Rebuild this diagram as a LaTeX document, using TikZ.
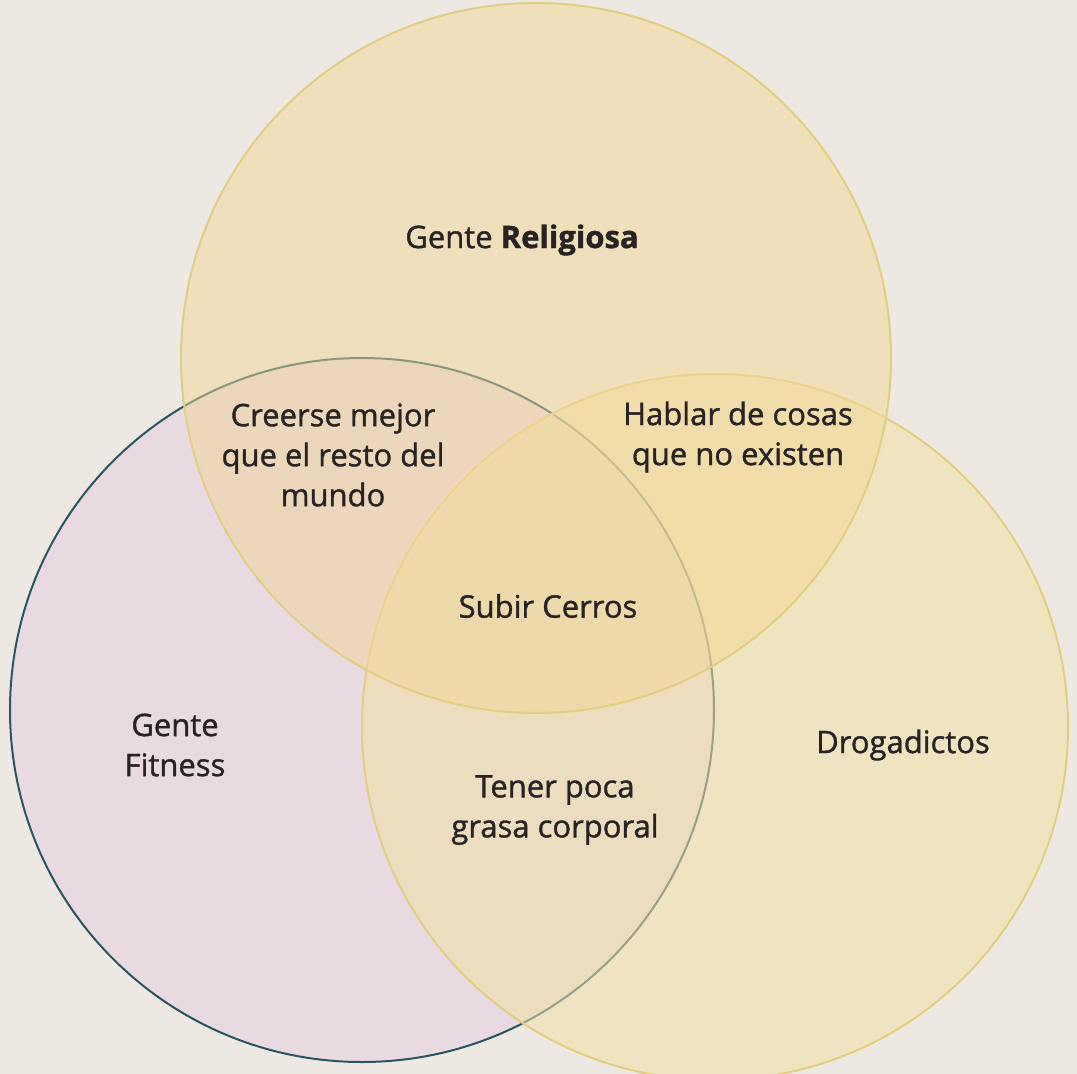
\documentclass[tikz,border=0pt]{standalone}
\usepackage{fontspec}
\setmainfont{Open Sans}
\newfontfamily\medfont[FakeBold=1.2]{Open Sans}
\definecolor{mybg}{RGB}{238,232,226}
\definecolor{myreli}{RGB}{240,215,150}
\definecolor{myfit}{RGB}{232,214,224}
\definecolor{mydrog}{RGB}{242,225,165}
\definecolor{myteal}{RGB}{40,85,95}
\definecolor{mygold}{RGB}{225,205,130}
\definecolor{mytext}{RGB}{40,35,35}
\usetikzlibrary{positioning}
\begin{document}
\begin{tikzpicture}[
  x=1pt, y=-1pt,
  venn/.style={circle, minimum size=#1, inner sep=0pt, line width=2pt},
  lbl/.style={font=\fontsize{31}{40}\medfont, text=mytext, align=center}
]
\fill[mybg] (0,0) rectangle (1077,1074);
\useasboundingbox (0,0) rectangle (1077,1074);

% circles
\node[venn=704pt, draw=myteal, fill=myfit, fill opacity=0.8] (fit) at (362,710) {};
\node[venn=706pt, draw=mygold, fill=mydrog, fill opacity=0.55] (drog) at (715,727) {};
\node[venn=710pt, draw=mygold, fill=myreli, fill opacity=0.5] (reli) at (536,358) {};

% labels
\node[lbl] (treli) at (522,240) {Gente \textbf{Religiosa}};
\node[lbl] (tfit) at (175,745) {Gente\\Fitness};
\node[lbl] (tdrog) at (903,745) {Drogadictos};
\node[lbl] (trf) at (333,455) {Creerse mejor\\que el resto del\\mundo};
\node[lbl] (trd) at (738,437) {Hablar de cosas\\que no existen};
\node[lbl] (tall) at (548,606) {Subir Cerros};
\node[lbl] (tfd) at (555,810) {Tener poca\\grasa corporal};
\end{tikzpicture}
\end{document}
